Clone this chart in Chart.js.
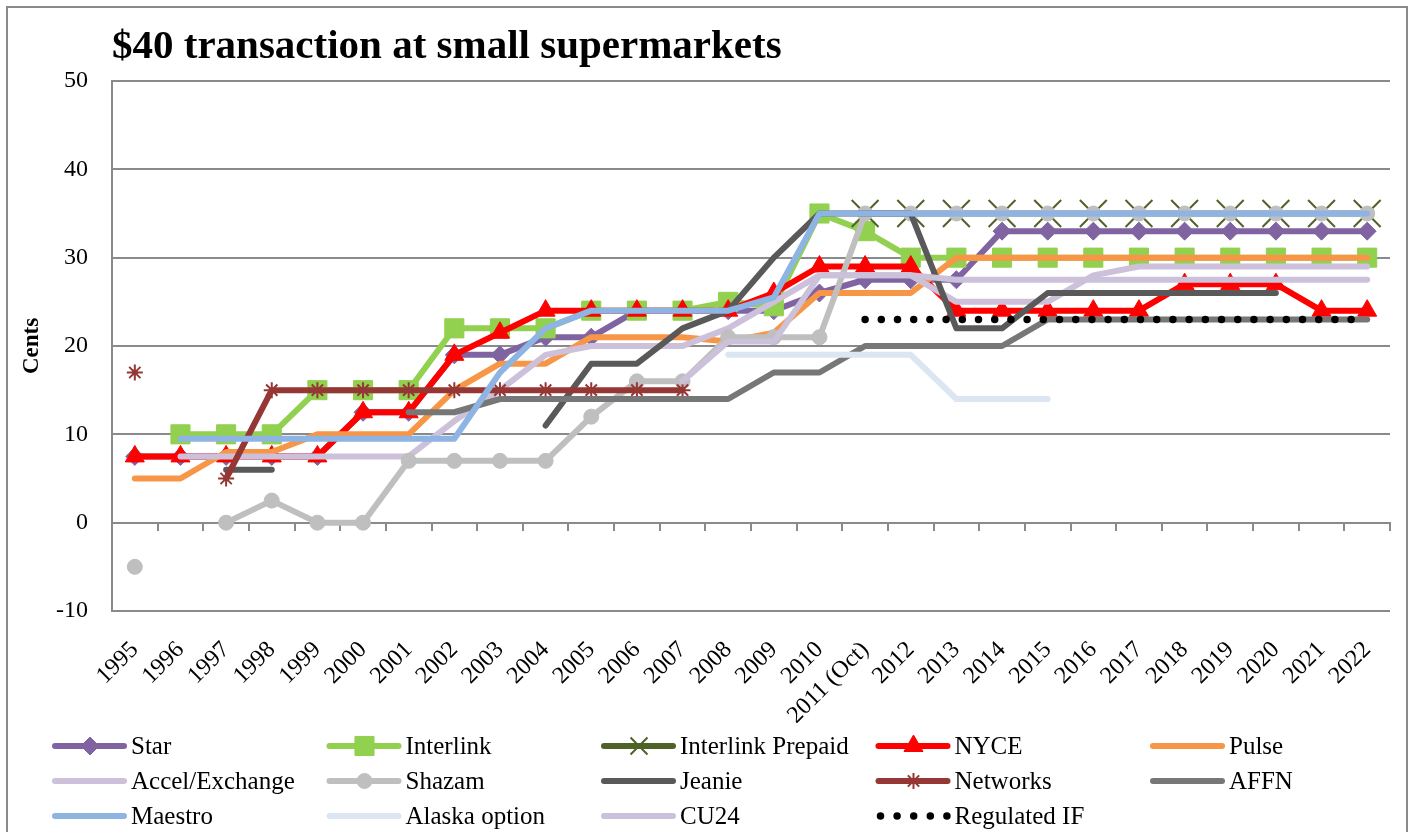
<!DOCTYPE html>
<html>
<head>
<meta charset="utf-8">
<title>$40 transaction at small supermarkets</title>
<script src="https://cdn.jsdelivr.net/npm/chart.js@4.4.1/dist/chart.umd.min.js"></script>
<style>
  html, body { margin: 0; padding: 0; background: #fff; }
  #wrap { width: 1413px; height: 832px; }
</style>
</head>
<body>
<div id="wrap"><canvas id="feesChart" width="1413" height="832"></canvas></div>
<script>
// categories
const years = ['1995', '1996', '1997', '1998', '1999', '2000', '2001', '2002', '2003', '2004',
    '2005', '2006', '2007', '2008', '2009', '2010', '2011 (Oct)', '2012', '2013', '2014',
    '2015', '2016', '2017', '2018', '2019', '2020', '2021', '2022'];

// series values (cents)
const star = [7.5, 7.5, 7.5, 7.5, 7.5, 12.5, 12.5, 19, 19, 21, 21, 24, 24, 24, 24, 26, 27.5, 27.5, 27.5, 33, 33, 33, 33, 33, 33, 33, 33, 33];
const interlink = [null, 10, 10, 10, 15, 15, 15, 22, 22, 22, 24, 24, 24, 25, 24.5, 35, 33, 30, 30, 30, 30, 30, 30, 30, 30, 30, 30, 30];
const interlinkPrepaid = [null, null, null, null, null, null, null, null, null, null, null, null, null, null, null, null, 35, 35, 35, 35, 35, 35, 35, 35, 35, 35, 35, 35];
const nyce = [7.5, 7.5, 7.5, 7.5, 7.5, 12.5, 12.5, 19, 21.5, 24, 24, 24, 24, 24, 26, 29, 29, 29, 24, 24, 24, 24, 24, 27, 27, 27, 24, 24];
const pulse = [5, 5, 8, 8, 10, 10, 10, 15, 18, 18, 21, 21, 21, 20.5, 21.5, 26, 26, 26, 30, 30, 30, 30, 30, 30, 30, 30, 30, 30];
const accel = [null, 7.5, 7.5, 7.5, 7.5, 7.5, 7.5, 11.5, 15, 19, 20, 20, 20, 22, 25, 28, 28, 28, 25, 25, 25, 28, 29, 29, 29, 29, 29, 29];
const shazam = [-5, null, 0, 2.5, 0, 0, 7, 7, 7, 7, 12, 16, 16, 21, 21, 21, 35, 35, 35, 35, 35, 35, 35, 35, 35, 35, 35, 35];
const jeanie = [null, null, 6, 6, null, null, null, null, null, 11, 18, 18, 22, 24, 30, 35, 35, 35, 22, 22, 26, 26, 26, 26, 26, 26, null, null];
const networks = [17, null, 5, 15, 15, 15, 15, 15, 15, 15, 15, 15, 15, null, null, null, null, null, null, null, null, null, null, null, null, null, null, null];
const affn = [null, null, null, null, null, null, 12.5, 12.5, 14, 14, 14, 14, 14, 14, 17, 17, 20, 20, 20, 20, 23, 23, 23, 23, 23, 23, 23, 23];
const maestro = [null, 9.5, 9.5, 9.5, 9.5, 9.5, 9.5, 9.5, 17, 22, 24, 24, 24, 24, 25.5, 35, 35, 35, 35, 35, 35, 35, 35, 35, 35, 35, 35, 35];
const alaska = [null, null, null, null, null, null, null, null, null, null, null, null, null, 19, 19, 19, 19, 19, 14, 14, 14, null, null, null, null, null, null, null];
const cu24 = [null, null, null, null, null, null, null, null, null, null, null, null, 16, 20.5, 20.5, 28, 28, 28, 27.5, 27.5, 27.5, 27.5, 27.5, 27.5, 27.5, 27.5, 27.5, 27.5];
const regulatedIF = [null, null, null, null, null, null, null, null, null, null, null, null, null, null, null, null, 23, 23, 23, 23, 23, 23, 23, 23, 23, 23, 23, 23];

// y axis ticks
const yMin = -10;
const yMax = 50;
const yStep = 10;

const SERIF = "'Liberation Serif', 'Times New Roman', serif";
const GRID = '#8a8a8a';

Chart.defaults.font.family = SERIF;
Chart.defaults.color = '#000';

function series(label, data, color, marker) {
    const ds = {
        label: label,
        data: data,
        borderColor: color,
        backgroundColor: color,
        borderWidth: 6,
        borderCapStyle: 'round',
        borderJoinStyle: 'round',
        tension: 0,
        spanGaps: false,
        pointRadius: 0,
        pointHoverRadius: 0
    };
    if (marker) {
        ds.pointStyle = marker.style;
        ds.pointRadius = marker.radius;
        ds.pointBorderWidth = marker.width || 1;
        ds.pointBackgroundColor = marker.fill || color;
        ds.pointBorderColor = marker.stroke || color;
    }
    return ds;
}

const datasets = [
    series('Star', star, '#8064A2', { style: 'rectRot', radius: 9 }),
    series('Interlink', interlink, '#92D050', { style: 'rect', radius: 13.5 }),
    series('Interlink Prepaid', interlinkPrepaid, '#4F6228', { style: 'crossRot', radius: 19, width: 2 }),
    series('NYCE', nyce, '#FF0000', { style: 'triangle', radius: 11 }),
    series('Pulse', pulse, '#F79646'),
    series('Accel/Exchange', accel, '#CCC0DA'),
    series('Shazam', shazam, '#BFBFBF', { style: 'circle', radius: 7.5 }),
    series('Jeanie', jeanie, '#595959'),
    series('Networks', networks, '#953735', { style: 'star', radius: 8, width: 2 }),
    series('AFFN', affn, '#777777'),
    series('Maestro', maestro, '#8DB4E2'),
    series('Alaska option', alaska, '#DCE6F2'),
    series('CU24', cu24, '#CCC1DA'),
    series('Regulated IF', regulatedIF, '#000000')
];
// dotted black line for Regulated IF
const reg = datasets[13];
reg.borderWidth = 7.5;
reg.borderDash = [0, 16.2];

// Excel draws the first series at the bottom
datasets.forEach((ds, i) => { ds.order = -i; });

const frameAndText = {
    id: 'frameAndText',
    beforeDraw(chart) {
        const ctx = chart.ctx;
        ctx.save();
        ctx.fillStyle = '#fff';
        ctx.fillRect(0, 0, chart.width, chart.height);
        ctx.strokeStyle = GRID;
        ctx.lineWidth = 2;
        ctx.strokeRect(7, 7, 1400, 840);
        ctx.restore();
    },
    afterDraw(chart) {
        const ctx = chart.ctx;
        ctx.save();
        // title
        ctx.fillStyle = '#000';
        ctx.font = 'bold 41px ' + SERIF;
        ctx.textAlign = 'left';
        ctx.textBaseline = 'alphabetic';
        ctx.fillText('$40 transaction at small supermarkets', 112, 58);

        // legend grid, 5 columns
        ctx.font = '25px ' + SERIF;
        ctx.textBaseline = 'middle';
        chart.data.datasets.forEach((ds, i) => {
            const col = i % 5;
            const row = Math.floor(i / 5);
            const x0 = 55 + col * 274.5;
            const y = 746 + row * 35;
            ctx.save();
            ctx.strokeStyle = ds.borderColor;
            ctx.lineWidth = ds.borderWidth;
            ctx.lineCap = 'round';
            if (ds.borderDash) ctx.setLineDash([0, 16.6]);
            ctx.beginPath();
            ctx.moveTo(x0 + (ds.borderDash ? 2 : 0), y);
            ctx.lineTo(x0 + 69, y);
            ctx.stroke();
            ctx.restore();
            if (ds.pointRadius > 0) {
                ctx.save();
                ctx.fillStyle = ds.pointBackgroundColor;
                ctx.strokeStyle = ds.pointBorderColor;
                ctx.lineWidth = ds.pointBorderWidth;
                const r = ds.pointStyle === 'crossRot' ? 12 : ds.pointRadius;
                Chart.helpers.drawPoint(ctx, { pointStyle: ds.pointStyle, radius: r, rotation: 0, borderWidth: ds.pointBorderWidth }, x0 + 35, y);
                ctx.restore();
            }
            ctx.fillStyle = '#000';
            ctx.fillText(ds.label, x0 + 76, y + 1);
        });
        ctx.restore();
    }
};

new Chart(document.getElementById('feesChart').getContext('2d'), {
    type: 'line',
    data: { labels: years, datasets: datasets },
    options: {
        responsive: false,
        animation: false,
        events: [],
        layout: { padding: { top: 81, left: 10, right: 23, bottom: 96 } },
        plugins: {
            legend: { display: false },
            tooltip: { enabled: false },
            title: { display: false }
        },
        scales: {
            x: {
                type: 'category',
                position: 'bottom',
                offset: true,
                grid: { display: false, drawTicks: false },
                border: { display: false },
                ticks: {
                    autoSkip: false,
                    maxRotation: 45,
                    minRotation: 45,
                    padding: 25,
                    color: '#000',
                    font: { size: 24 }
                },
                afterFit(scale) { scale.height = 125; }
            },
            x2: {
                type: 'category',
                position: { y: 0 },
                offset: true,
                grid: { offset: true, drawOnChartArea: false, drawTicks: true, tickLength: 7, color: GRID, lineWidth: 2 },
                border: { display: true, color: GRID, width: 2 },
                ticks: { display: false }
            },
            y: {
                min: yMin,
                max: yMax,
                ticks: { stepSize: yStep, padding: 24, color: '#000', font: { size: 24 } },
                grid: { color: GRID, lineWidth: 2, drawTicks: false },
                border: { display: true, color: GRID, width: 2 },
                title: {
                    display: true,
                    text: 'Cents',
                    color: '#000',
                    font: { size: 23, weight: 'bold' },
                    padding: { top: 8, bottom: 0 }
                },
                afterFit(scale) { scale.width = 102; }
            }
        }
    },
    plugins: [frameAndText]
});
</script>
</body>
</html>
